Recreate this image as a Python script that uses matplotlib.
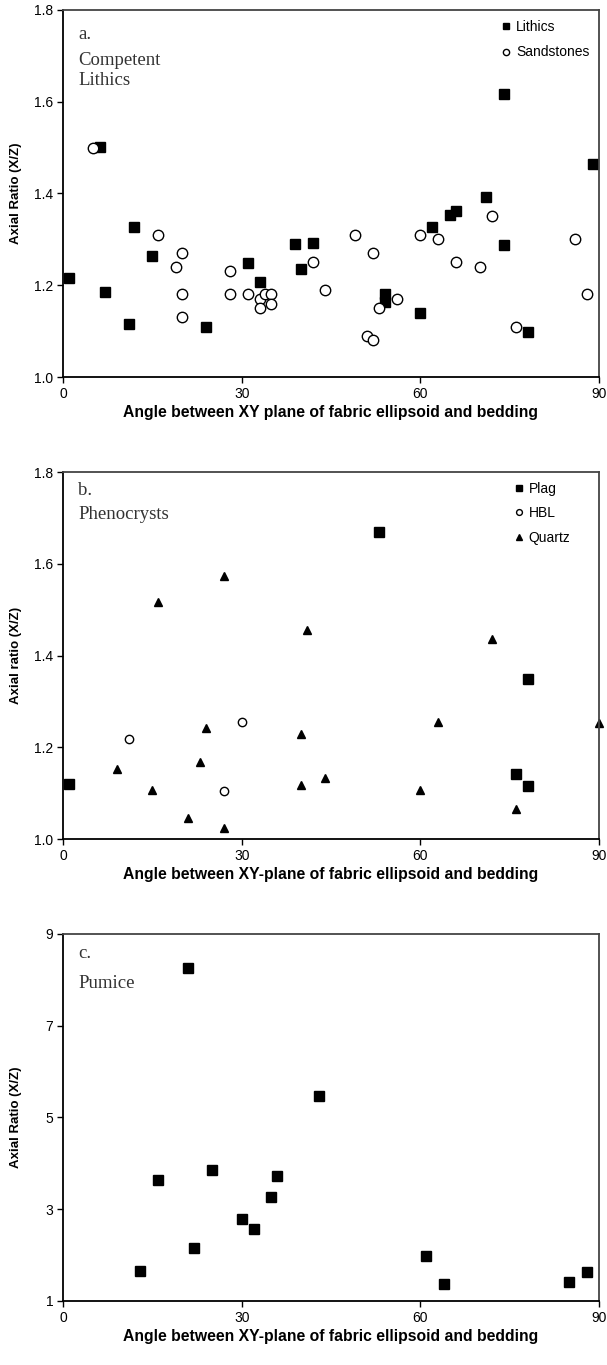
import matplotlib
matplotlib.use("Agg")
from matplotlib import pyplot as plt

# panel a: competent lithics
lith_x = [1, 6.2, 7, 11, 12, 15, 24, 31, 33, 39, 40, 42, 54, 54, 60, 62, 65, 66, 71, 74, 74, 78, 89]
lith_y = [1.215, 1.502, 1.185, 1.115, 1.326, 1.264, 1.110, 1.249, 1.206, 1.290, 1.236, 1.293,
          1.180, 1.163, 1.139, 1.326, 1.353, 1.362, 1.393, 1.288, 1.616, 1.099, 1.465]
sand_x = [5, 16, 19, 20, 20, 20, 28, 28, 31, 33, 33, 34, 35, 35, 42, 44, 49, 51, 52, 52,
          53, 56, 60, 63, 66, 70, 72, 76, 86, 88]
sand_y = [1.50, 1.31, 1.24, 1.27, 1.18, 1.13, 1.23, 1.18, 1.18, 1.17, 1.15, 1.18, 1.18, 1.16,
          1.25, 1.19, 1.31, 1.09, 1.27, 1.08, 1.15, 1.17, 1.31, 1.30, 1.25, 1.24, 1.35, 1.11,
          1.30, 1.18]

# panel b: phenocrysts
plag_x = [1, 53, 76, 78, 78]
plag_y = [1.121, 1.669, 1.142, 1.349, 1.116]
hbl_x = [11, 30, 27]
hbl_y = [1.218, 1.256, 1.105]
qtz_x = [9, 15, 16, 21, 23, 24, 27, 27, 40, 40, 41, 44, 60, 63, 72, 76, 90]
qtz_y = [1.153, 1.107, 1.517, 1.045, 1.168, 1.243, 1.574, 1.025, 1.230, 1.118, 1.456,
         1.134, 1.107, 1.255, 1.436, 1.065, 1.252]

# panel c: pumice
pum_x = [13, 16, 21, 22, 25, 30, 32, 35, 36, 43, 61, 64, 85, 88]
pum_y = [1.65, 3.64, 8.25, 2.16, 3.85, 2.78, 2.57, 3.26, 3.72, 5.47, 1.97, 1.36, 1.41, 1.63]

plt.rcParams['font.family'] = ['Liberation Sans', 'DejaVu Sans']

fig = plt.figure(figsize=(6.07, 13.65), dpi=100)
ax_a = fig.add_axes([0.1038, 0.7238, 0.883, 0.2689])
ax_b = fig.add_axes([0.1038, 0.3853, 0.883, 0.2689])
ax_c = fig.add_axes([0.1038, 0.0469, 0.883, 0.2689])


def style(ax, ylim, yticks, fmt, xlabel, ylabel, tag, name, tag_y, name_y):
    ax.set_xlim(0, 90)
    ax.set_ylim(*ylim)
    ax.set_xticks([0, 30, 60, 90])
    ax.set_yticks(yticks)
    ax.set_yticklabels([fmt.format(v) for v in yticks])
    ax.tick_params(direction='out', length=4, width=1, labelsize=10, pad=3)
    for s in ['left', 'bottom']:
        ax.spines[s].set_linewidth(1.3)
        ax.spines[s].set_color('black')
    for s in ['top', 'right']:
        ax.spines[s].set_linewidth(1.3)
        ax.spines[s].set_color('#444444')
    ax.set_xlabel(xlabel, fontsize=11.3, fontweight='bold')
    ax.xaxis.set_label_coords(0.5, -0.076)
    ax.set_ylabel(ylabel, fontsize=9.5, fontweight='bold')
    ax.yaxis.set_label_coords(-0.076, 0.5)
    ax.text(0.028, tag_y, tag, transform=ax.transAxes, va='baseline', ha='left',
            family='Liberation Serif', fontsize=13.5, color='#333333')
    for i, line in enumerate(name):
        ax.text(0.028, name_y - i * 20 / 367, line, transform=ax.transAxes,
                va='baseline', ha='left', family='Liberation Serif',
                fontsize=13.5, color='#333333')


ax_a.plot(lith_x, lith_y, 's', color='black', ms=6.5, label='Lithics', clip_on=False)
ax_a.plot(sand_x, sand_y, 'o', mfc='white', mec='black', mew=1, ms=7.5,
          label='Sandstones', clip_on=False)
style(ax_a, (1.0, 1.8), [1.0, 1.2, 1.4, 1.6, 1.8], '{:.1f}',
      'Angle between XY plane of fabric ellipsoid and bedding',
      'Axial Ratio (X/Z)', 'a.', ['Competent', 'Lithics'], 0.921, 0.850)
ax_a.legend(loc='upper right', frameon=False, fontsize=10, markerscale=0.6,
            handletextpad=0.1, handlelength=1.2, labelspacing=0.85,
            borderaxespad=0.3)

ax_b.plot(plag_x, plag_y, 's', color='black', ms=6.5, label='Plag', clip_on=False)
ax_b.plot(hbl_x, hbl_y, 'o', mfc='white', mec='black', mew=1, ms=6,
          label='HBL', clip_on=False)
ax_b.plot(qtz_x, qtz_y, '^', color='black', ms=5.5, label='Quartz', clip_on=False)
style(ax_b, (1.0, 1.8), [1.0, 1.2, 1.4, 1.6, 1.8], '{:.1f}',
      'Angle between XY-plane of fabric ellipsoid and bedding',
      'Axial ratio (X/Z)', 'b.', ['Phenocrysts'], 0.937, 0.872)
ax_b.legend(loc='upper right', frameon=False, fontsize=10, markerscale=0.7,
            handletextpad=0.1, handlelength=1.2, labelspacing=0.75,
            borderaxespad=0.3, bbox_to_anchor=(0.965, 1.0))

ax_c.plot(pum_x, pum_y, 's', color='black', ms=7, clip_on=False)
style(ax_c, (1, 9), [1, 3, 5, 7, 9], '{:d}',
      'Angle between XY-plane of fabric ellipsoid and bedding',
      'Axial Ratio (X/Z)', 'c.', ['Pumice'], 0.935, 0.853)

fig.savefig('out.png', dpi=100)
